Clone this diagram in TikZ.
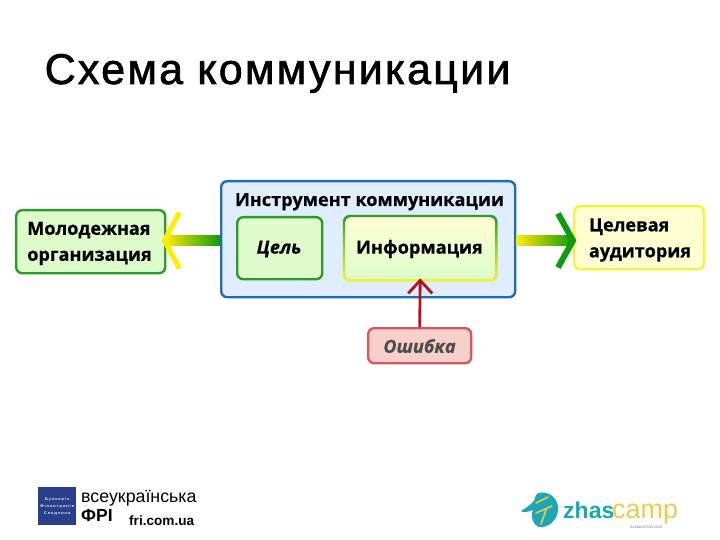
\documentclass[tikz,border=0pt]{standalone}
\usepackage{fontspec}
\setmainfont{Liberation Sans}
\newfontfamily\boxfont[FakeBold=0.5]{Open Sans}
\newfontfamily\titlefont[LetterSpace=5.2,FakeBold=1.5]{Liberation Sans}
\usetikzlibrary{calc}
\definecolor{grn}{HTML}{2E9A2A}
\definecolor{grnfill}{HTML}{DDFBCB}
\definecolor{blu}{HTML}{1F6CB0}
\definecolor{blufill}{HTML}{DFEDFC}
\definecolor{yel}{HTML}{F4F23A}
\definecolor{yelfill}{HTML}{FFFFD2}
\definecolor{redl}{HTML}{D2595C}
\definecolor{redfill}{HTML}{F9CFCB}
\definecolor{arrgrn}{HTML}{0F9A0F}
\definecolor{arryel}{HTML}{FFEE00}
\definecolor{arrred}{HTML}{B5101E}
\definecolor{teal1}{HTML}{1CA7B5}
\definecolor{camp}{HTML}{F2C94C}
\definecolor{navy}{HTML}{2A3F8C}
\tikzset{
  x=1pt,y=-1pt,
  rbox/.style={rounded corners=6pt,line width=2.4pt,anchor=north west,inner sep=0pt},
  lab/.style={font=\boxfont\bfseries\fontsize{18.1}{26}\selectfont,align=left,text=black,inner sep=0pt},
  labit/.style={lab,font=\boxfont\bfseries\itshape\fontsize{18.1}{26}\selectfont},
  chev/.style={line width=5pt,line cap=butt,line join=miter},
}
\begin{document}
\begin{tikzpicture}
\useasboundingbox (0,0) rectangle (720,540);
\fill[white] (0,0) rectangle (720,540);
\node[anchor=base west,inner sep=0pt,font=\titlefont\fontsize{43}{43}\selectfont] (title) at (44.5,84) {Схема коммуникации};

% container
\node[rbox,draw=blu,fill=blufill,minimum width=294pt,minimum height=116pt] (tool) at (220,180) {};
\node[lab,anchor=base] (toolt) at (369.5,206) {Инструмент коммуникации};

% boxes
\node[rbox,draw=grn,fill=grnfill,minimum width=149pt,minimum height=63pt] (org) at (15,209) {};
\node[lab,anchor=center] (orgt) at (89.5,243.5) {Молодежная\\организация};
\node[rbox,draw=grn,fill=grnfill,minimum width=85pt,minimum height=62pt] (goal) at (236,216) {};
\node[labit,anchor=center] (goalt) at (279,249) {Цель};
\node[rbox,top color=yelfill,bottom color=grnfill,minimum width=150pt,minimum height=62pt] (info) at (344,216) {};
\shade[top color=grn,bottom color=yel,middle color=yel!55!grn,even odd rule]
  ($(info.north west)+(-1.2,-1.2)$) [rounded corners=7pt] rectangle ($(info.south east)+(1.2,1.2)$)
  ($(info.north west)+(1.2,1.2)$) [rounded corners=5pt] rectangle ($(info.south east)+(-1.2,-1.2)$);
\node[lab,anchor=center] (infot) at (419.5,249) {Информация};
\node[rbox,draw=yel,fill=yelfill,minimum width=130pt,minimum height=63pt] (aud) at (573,205) {};
\node[lab,anchor=center] (audt) at (640,240) {Целевая\\аудитория};
\node[rbox,draw=redl,fill=redfill,minimum width=103pt,minimum height=35pt] (err) at (367,327) {};
\node[labit,anchor=center,text=black!70] (errt) at (419.5,346) {Ошибка};

% left connector
\coordinate (ltip) at ($(org.east |- 0,240.5)+(-2,0)$);
\coordinate (lsrc) at (tool.west |- 0,240.5);
\shade[left color=arryel,right color=arrgrn] ($(ltip)+(0,-5)$) rectangle ($(lsrc)+(0,5)$);
\draw[chev,arryel] ($(ltip)+(15,-28)$) -- (ltip) -- ($(ltip)+(15,28)$);

% right connector
\coordinate (rtip) at (aud.west |- 0,240.5);
\coordinate (rsrc) at (tool.east |- 0,240.5);
\shade[left color=arryel,right color=arrgrn] ($(rsrc)+(0,-5)$) rectangle ($(rtip)+(0,5)$);
\draw[chev,arrgrn,line width=6pt] ($(rtip)+(-15,-27)$) -- (rtip) -- ($(rtip)+(-15,27)$);

% red connector
\draw[arrred,line width=2.8pt] (err.north) -- (info.south);
\draw[arrred,line width=2.8pt] ($(info.south)+(-12,13)$) -- (info.south) -- ($(info.south)+(12,13)$);

% lower left logo
\node[anchor=north west,fill=navy,minimum width=38pt,minimum height=38pt,inner sep=0pt] (sq) at (38,487) {};
\node[anchor=center,align=center,inner sep=0pt,text=white,font=\fontsize{3.8}{6.8}\selectfont\bfseries] (sqt) at (sq.center) {Б у н к е в і ч\\Ф і л а н т р о п і я\\С п а д ч и н а};
\node[anchor=base west,inner sep=0pt,font=\fontsize{17.8}{17.8}\selectfont] (vse) at (81,502) {всеукраїнська};
\node[anchor=base west,inner sep=0pt,font=\bfseries\fontsize{17.5}{17.5}\selectfont] (fpi) at (81,521) {ФРІ};
\node[anchor=base west,inner sep=0pt,font=\bfseries\fontsize{13.6}{13.6}\selectfont] (fri) at (129,525) {fri.com.ua};

% lower right logo
\fill[teal1] (538,493) .. controls (550,490) and (559,500) .. (558,510) .. controls (557,521) and (548,528) .. (539,527) .. controls (533,525) and (530,517) .. (533,510) .. controls (528,512) and (523,513) .. (521,511) .. controls (526,508) and (530,505) .. (533,502) .. controls (536,499) and (534,496) .. (538,493) -- cycle;
\draw[camp,line width=1.6pt,line cap=round] (536,503) -- (548,497) (536,513) -- (552,506) (541,524) -- (546,510);
\node[anchor=base west,inner sep=0pt,text=teal1,font=\fontsize{23}{23}\selectfont\bfseries] (zhas) at (563,518) {zhas};
\node[anchor=base west,inner sep=0pt,text=camp,font=\fontsize{27}{27}\selectfont] (campt) at (612,518) {camp};
\node[anchor=center,inner sep=0pt,text=black!55,font=\fontsize{3.5}{4}\selectfont] (ca) at (646,527) {KAZAKHSTAN 2016};
\end{tikzpicture}
\end{document}
